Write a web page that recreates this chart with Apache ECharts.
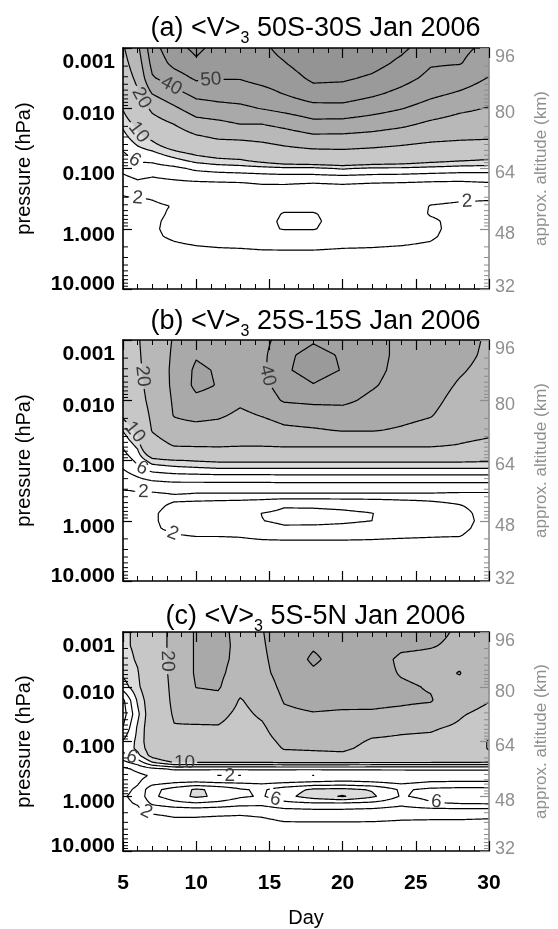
<!DOCTYPE html>
<html>
<head>
<meta charset="utf-8">
<script src="https://cdn.jsdelivr.net/npm/echarts@6.0.0/dist/echarts.min.js"></script>
<style>
html,body{margin:0;padding:0;background:#ffffff;}
#chart{width:558px;height:929px;}
</style>
</head>
<body>
<div id="chart"></div>
<script>
// ---------------- data ----------------
// grid columns (day of January 2006) and rows (log10 pressure, hPa)
const DAYS = [5, 6, 7, 8.5, 10, 11.5, 13, 14.5, 16, 18, 20, 22, 24, 26, 28, 30];
const LOG_P = [-3, -2.75, -2.5, -2.25, -2, -1.75, -1.5, -1.25, -1, -0.875, -0.75, -0.625, -0.5, -0.375, -0.25, -0.125, 0, 0.125, 0.25, 0.375, 0.5, 0.75, 1];

// <V>_3 values, one array per day column, top (0.001 hPa) to bottom (10 hPa)
const V_50S_30S = [
  [19, 17, 15, 12.5, 10.2, 8.5, 7.2, 5.8, 4.5, 3.8, 3.0, 2.3, 1.8, 1.5, 1.3, 1.1, 1.0, 0.95, 0.9, 0.8, 0.7, 0.5, 0.3],
  [28, 25, 22, 19, 14, 11, 9, 7, 5.2, 4.4, 3.6, 2.8, 1.95, 1.6, 1.4, 1.3, 1.2, 1.15, 1.1, 0.95, 0.8, 0.5, 0.3],
  [46, 43, 39, 30.5, 22, 16, 10.5, 7.5, 5.1, 4.1, 3.3, 2.6, 2.05, 1.8, 1.7, 1.8, 1.85, 1.8, 1.6, 1.3, 1.0, 0.6, 0.3],
  [57, 53, 45, 37, 28.5, 20.5, 14, 9, 5.5, 4.5, 3.5, 2.9, 2.4, 2.05, 2.2, 2.3, 2.3, 2.2, 1.9, 1.5, 1.2, 0.7, 0.4],
  [62, 58.5, 51.5, 43, 35, 26.5, 18, 10.5, 6.4, 5.0, 3.6, 2.7, 2.1, 2.2, 2.4, 2.6, 2.6, 2.4, 2.1, 1.7, 1.3, 0.8, 0.4],
  [57, 54, 50.5, 44, 37, 28, 20.5, 11.5, 6.8, 5.2, 3.7, 2.9, 2.4, 2.5, 2.6, 2.8, 2.8, 2.6, 2.2, 1.8, 1.4, 0.8, 0.4],
  [56, 54.5, 50.5, 45, 38, 30.5, 21, 12, 7, 5.3, 3.8, 3.0, 2.6, 2.8, 3.0, 3.2, 3.3, 2.9, 2.3, 1.8, 1.4, 0.8, 0.4],
  [58, 56, 53, 47, 40.5, 30.5, 22, 14, 7.2, 5.5, 4.1, 3.2, 2.8, 3.0, 3.4, 3.6, 3.6, 3.1, 2.4, 1.9, 1.5, 0.8, 0.4],
  [63, 59.5, 55, 50.5, 43, 33, 24, 16, 7.5, 5.6, 4.1, 3.3, 3.0, 3.5, 4.1, 4.2, 4.1, 3.3, 2.5, 1.9, 1.5, 0.8, 0.4],
  [68, 66, 62, 56, 46.5, 37.5, 27, 17, 7.5, 5.6, 3.9, 3.2, 3.0, 3.5, 4.1, 4.2, 4.1, 3.3, 2.5, 1.9, 1.5, 0.8, 0.4],
  [68, 66, 61.5, 55.5, 47, 37, 27, 17.5, 8.2, 5.8, 4.1, 3.2, 2.9, 3.2, 3.4, 3.5, 3.3, 2.9, 2.3, 1.8, 1.4, 0.8, 0.4],
  [66, 63.5, 58.5, 52, 44, 35, 26, 16.5, 7.6, 5.6, 3.9, 3.1, 2.8, 3.0, 3.1, 3.1, 3.0, 2.7, 2.2, 1.8, 1.4, 0.8, 0.4],
  [62, 58, 53.5, 47.5, 40.5, 32.5, 24, 15.5, 7.6, 5.5, 3.8, 3.0, 2.7, 2.8, 2.9, 2.9, 2.8, 2.5, 2.1, 1.7, 1.4, 0.8, 0.4],
  [55, 51, 47.5, 42.5, 36, 28.5, 22, 14, 7.3, 5.3, 3.6, 2.8, 2.3, 1.95, 1.9, 2.2, 2.3, 2.2, 1.9, 1.6, 1.2, 0.7, 0.4],
  [52, 50.5, 45, 39, 32, 26, 21, 13, 7, 5.2, 3.5, 2.7, 2.15, 1.8, 1.6, 1.6, 1.5, 1.4, 1.3, 1.1, 0.9, 0.6, 0.3],
  [48, 45, 39.5, 35, 29.5, 25, 20.5, 12, 7, 5.2, 3.8, 2.8, 2.1, 1.7, 1.5, 1.4, 1.3, 1.2, 1.1, 0.95, 0.8, 0.5, 0.3]
];
const V_25S_15S = [
  [16, 15.5, 15, 14, 12, 10.5, 8.1, 6.3, 4.8, 4.1, 3.2, 2.5, 1.95, 1.6, 1.3, 1.2, 1.1, 1.0, 0.9, 0.8, 0.7, 0.5, 0.3],
  [19, 18.5, 18, 17, 15.5, 13, 10.8, 8.5, 6.5, 5.6, 4.2, 3.1, 2.05, 1.7, 1.4, 1.3, 1.2, 1.1, 1.0, 0.9, 0.8, 0.5, 0.3],
  [26, 25.5, 25, 24.5, 23.5, 22, 20.5, 16, 9, 7, 5.1, 3.5, 2.1, 1.6, 1.7, 1.85, 1.85, 1.8, 1.5, 1.2, 1.0, 0.6, 0.3],
  [30.5, 31, 31.5, 31.5, 31, 30.5, 26, 20.5, 9.8, 7.5, 5.5, 3.8, 2.2, 1.8, 2.2, 2.4, 2.4, 2.3, 1.9, 1.5, 1.1, 0.6, 0.3],
  [34, 39, 42, 42.5, 37.5, 33, 26, 20.8, 10.2, 7.8, 5.6, 3.8, 2.1, 1.8, 2.3, 2.5, 2.5, 2.4, 2.05, 1.5, 1.1, 0.6, 0.3],
  [35, 36, 39, 39.5, 36, 31.5, 25.5, 21, 10.5, 8.1, 5.7, 3.8, 2.1, 1.8, 2.4, 2.7, 2.7, 2.5, 2.05, 1.5, 1.1, 0.6, 0.3],
  [36, 36.5, 37, 36, 32, 28, 24.5, 20.5, 10.5, 8.1, 5.7, 3.8, 2.1, 1.8, 2.5, 2.9, 2.9, 2.7, 2.1, 1.6, 1.2, 0.6, 0.3],
  [37, 37.5, 38, 37.5, 35, 30.5, 25, 20.5, 10.5, 8.1, 5.7, 3.8, 2.1, 1.8, 2.8, 4.05, 3.95, 3.2, 2.3, 1.7, 1.2, 0.6, 0.3],
  [44, 48, 48.5, 44, 41, 33.5, 28, 21, 10.5, 8.1, 5.8, 3.9, 2.1, 1.8, 3.8, 4.5, 4.4, 3.7, 2.4, 1.7, 1.2, 0.6, 0.3],
  [49, 53, 54, 49.5, 42, 35, 29, 21, 10.5, 8.1, 5.8, 3.9, 2.1, 1.8, 3.7, 4.6, 4.5, 3.6, 2.4, 1.7, 1.2, 0.6, 0.3],
  [45, 49, 49.5, 45, 42, 36, 30.5, 21, 10.5, 8.1, 5.8, 3.9, 2.1, 1.8, 3.5, 4.4, 4.3, 3.5, 2.4, 1.7, 1.2, 0.6, 0.3],
  [43, 43, 42.5, 41, 38, 35, 30.5, 21, 10.5, 8.1, 5.8, 3.9, 2.1, 1.8, 3.1, 4.05, 4.0, 3.3, 2.3, 1.7, 1.2, 0.6, 0.3],
  [38, 38, 37.5, 36.5, 35, 32.5, 29, 21, 10.5, 8.1, 5.8, 3.9, 2.1, 1.8, 2.6, 3.1, 3.1, 2.8, 2.2, 1.6, 1.2, 0.6, 0.3],
  [36, 36, 35, 34, 32.5, 30.5, 27, 21, 10.5, 8.1, 5.8, 3.9, 2.1, 1.8, 2.3, 2.7, 2.8, 2.6, 2.1, 1.6, 1.1, 0.6, 0.3],
  [34, 33, 31, 29, 27, 25.5, 24, 19.5, 10.5, 8.1, 5.8, 3.9, 2.1, 1.7, 2.05, 2.3, 2.4, 2.3, 2.05, 1.5, 1.1, 0.6, 0.3],
  [28.5, 28, 27, 26, 25, 24, 22.5, 17.5, 10.3, 8.1, 5.8, 3.9, 2.1, 1.7, 1.6, 1.6, 1.6, 1.5, 1.3, 1.1, 0.9, 0.5, 0.3]
];
const V_5S_5N = [
  [9.5, 9.5, 9, 8.5, 7, 3.5, 3, 4.1, 6.2, 6.5, 5.5, 3.5, 1.5, 0.9, 1.1, 1.5, 1.8, 1.6, 1.2, 0.9, 0.7, 0.4, 0.2],
  [10.5, 10.5, 10.3, 9.8, 9.5, 8.3, 7.5, 8.3, 8.5, 8.5, 7.5, 5, 2.5, 1.5, 1.8, 2.3, 2.5, 2.2, 1.6, 1.1, 0.8, 0.4, 0.2],
  [14, 14, 13.5, 13, 12.5, 12, 12, 12, 12, 11.5, 11, 8.1, 3.5, 2.2, 3.2, 5.4, 5.6, 4.4, 2.6, 1.6, 1.1, 0.5, 0.2],
  [23, 23, 23, 23, 22.5, 22, 21, 19.5, 17, 15.5, 13.5, 10.3, 4.3, 2.3, 3.9, 6.8, 7.0, 5.5, 3.0, 2.05, 1.4, 0.6, 0.2],
  [31, 31, 31, 31, 30.2, 27, 23, 19, 16.5, 15, 13.5, 10.3, 4.3, 2.2, 4.2, 8.3, 8.4, 5.9, 3.2, 2.05, 1.4, 0.6, 0.2],
  [32, 32.5, 32.5, 32, 31, 27.5, 23, 19.2, 16.5, 15, 13.5, 10.3, 4.3, 1.9, 3.9, 7.5, 7.6, 5.5, 3.0, 1.9, 1.3, 0.6, 0.2],
  [28, 28, 27.5, 26, 23, 19.3, 17.5, 16, 15, 14, 13, 10.3, 4.3, 1.9, 3.8, 6.2, 6.3, 4.8, 2.8, 1.8, 1.3, 0.6, 0.2],
  [29.5, 29, 28.5, 28, 26, 24, 21.5, 18.5, 16.5, 15.5, 14, 10.3, 4.3, 2.2, 3.6, 5.7, 5.8, 4.6, 3.0, 2.05, 1.4, 0.6, 0.2],
  [36, 35, 34, 33, 32, 30.5, 28.5, 26, 22, 20.5, 17.5, 10.5, 4.3, 2.1, 3.9, 7.0, 7.3, 5.5, 3.6, 2.5, 1.8, 0.8, 0.3],
  [37, 39, 41.5, 38.5, 35, 32.5, 29.5, 27, 23, 21, 18, 10.5, 4.3, 1.9, 4.3, 8.3, 9.0, 5.9, 3.8, 2.6, 1.8, 0.8, 0.3],
  [37, 36.5, 36, 35, 34, 32, 29, 26, 23, 21.5, 18.5, 10.5, 4.3, 2.3, 4.5, 8.5, 10.2, 5.9, 3.8, 2.6, 1.8, 0.8, 0.3],
  [36, 35, 34, 33, 32.5, 31.5, 29.2, 23, 19, 17.5, 15, 10.4, 4.3, 2.4, 4.2, 7.8, 8.4, 5.6, 3.6, 2.5, 1.8, 0.8, 0.3],
  [33, 31.5, 28.5, 29.5, 31, 31, 28.5, 21.5, 18.5, 17, 15, 10.4, 4.3, 2.5, 3.6, 5.7, 5.8, 4.6, 3.2, 2.3, 1.7, 0.8, 0.3],
  [32, 30.5, 28, 28, 29.5, 30.5, 27, 21, 18, 16.5, 14.5, 10.4, 4.3, 2.6, 4.2, 6.4, 6.6, 5.8, 3.4, 2.3, 1.6, 0.7, 0.3],
  [29, 28.5, 28, 30.3, 28, 25, 21, 18.5, 16, 15, 13.5, 10.3, 4.3, 2.6, 4.3, 6.6, 6.8, 6.2, 3.5, 2.3, 1.6, 0.7, 0.3],
  [27, 26.5, 25.5, 24, 22, 20.5, 17, 13, 9.5, 9.6, 11, 10.2, 4.3, 2.6, 4.3, 6.6, 6.8, 6.3, 3.5, 2.2, 1.5, 0.7, 0.3]
];

const CONTOUR_LEVELS = [2, 4, 6, 8, 10, 20, 30, 40, 50, 60];
const FILL_LEVELS = [8, 10, 20, 30, 40, 50, 60];
const FILL_COLORS = ['#dcdcdc', '#c7c7c7', '#b8b8b8', '#a9a9a9', '#a1a1a1', '#9a9a9a', '#949494'];

// contour labels: [level, day, log10 p] (approximate spot on the line)
const LABELS_A = [[50, 11, -2.48], [40, 8.3, -2.33], [20, 6.4, -2.17], [10, 6.0, -1.6], [6, 5.8, -1.12], [2, 6.0, -0.58], [2, 28.5, -0.44]];
const LABELS_B = [[20, 6.3, -2.4], [10, 5.7, -1.47], [6, 6.3, -0.86], [2, 6.4, -0.48], [2, 8.4, 0.19], [40, 15.1, -2.41]];
const LABELS_C = [[20, 7.8, -2.47], [6, 5.6, -0.8], [10, 9.2, -0.6], [2, 12.3, -0.38], [2, 6.6, 0.12], [6, 15.4, 0.0], [6, 26.4, 0.19]];

const PANEL_TAGS = ['(a)', '(b)', '(c)'];
const PANEL_BANDS = ['50S-30S', '25S-15S', '5S-5N'];
const PANEL_MONTH = 'Jan 2006';
const LOG_MINOR_TICKS = [0.002, 0.003, 0.004, 0.005, 0.006, 0.007, 0.008, 0.009,
  0.02, 0.03, 0.04, 0.05, 0.06, 0.07, 0.08, 0.09,
  0.2, 0.3, 0.4, 0.5, 0.6, 0.7, 0.8, 0.9,
  2, 3, 4, 5, 6, 7, 8, 9];

// ---------------- layout ----------------
const FONT = '"Liberation Sans", Arial, Helvetica, sans-serif';
const GRID_LEFT = 123, GRID_W = 385;
const GRID_TOP = [48, 340, 632];
const GRID_H = [241, 241, 227];
const TITLE_Y = [29, 322, 617];

const PANELS = [
  { data: V_50S_30S, labels: LABELS_A },
  { data: V_25S_15S, labels: LABELS_B },
  { data: V_5S_5N, labels: LABELS_C }
];

function fieldAt(cols, d, L) {
  d = Math.max(DAYS[0], Math.min(DAYS[DAYS.length - 1], d));
  L = Math.max(LOG_P[0], Math.min(LOG_P[LOG_P.length - 1], L));
  let i = 0; while (i < DAYS.length - 2 && d > DAYS[i + 1]) i++;
  let j = 0; while (j < LOG_P.length - 2 && L > LOG_P[j + 1]) j++;
  const tx = (d - DAYS[i]) / (DAYS[i + 1] - DAYS[i]);
  const ty = (L - LOG_P[j]) / (LOG_P[j + 1] - LOG_P[j]);
  const a = cols[i][j], b = cols[i + 1][j], c = cols[i][j + 1], e = cols[i + 1][j + 1];
  return (a * (1 - tx) + b * tx) * (1 - ty) + (c * (1 - tx) + e * tx) * ty;
}

function findLabelPos(cols, lev, d0, L0, pxDay, pxL) {
  let best = null;
  const sL = 0.002;
  for (let L = -2.998; L < 0.996; L += sL) {
    const a = fieldAt(cols, d0, L) - lev, b = fieldAt(cols, d0, L + sL) - lev;
    if (a * b < 0) {
      const Lc = L + sL * a / (a - b);
      const dist = Math.abs(Lc - L0) * pxL;
      if (!best || dist < best.dist) best = { d: d0, L: Lc, dist: dist };
    }
  }
  const sD = 0.01;
  for (let d = 5.3; d < 29.7; d += sD) {
    const a = fieldAt(cols, d, L0) - lev, b = fieldAt(cols, d + sD, L0) - lev;
    if (a * b < 0) {
      const dc = d + sD * a / (a - b);
      const dist = Math.abs(dc - d0) * pxDay;
      if (!best || dist < best.dist) best = { d: dc, L: L0, dist: dist };
    }
  }
  return best || { d: d0, L: L0 };
}

function f2(v) { return v.toFixed(2); }

function contourRenderer(cols, labels) {
  return function (params, api) {
    if (params.dataIndex !== 0) return null;
    const NX = 251, NY = 201;
    const ds = [], Ls = [], xs = [], ys = [];
    for (let i = 0; i < NX; i++) { const d = 5 + 25 * i / (NX - 1); ds.push(d); xs.push(api.coord([d, 1])[0]); }
    for (let j = 0; j < NY; j++) { const L = -3 + 4 * j / (NY - 1); Ls.push(L); ys.push(api.coord([5, Math.pow(10, L)])[1]); }
    const F = [];
    for (let j = 0; j < NY; j++) {
      const row = new Float64Array(NX);
      for (let i = 0; i < NX; i++) row[i] = fieldAt(cols, ds[i], Ls[j]);
      F.push(row);
    }
    const pxDay = (xs[NX - 1] - xs[0]) / 25;
    const pxL = (ys[NY - 1] - ys[0]) / 4;
    const children = [];

    // filled bands (cumulative layers)
    for (let b = 0; b < FILL_LEVELS.length; b++) {
      const lev = FILL_LEVELS[b];
      let p = '';
      for (let j = 0; j < NY - 1; j++) {
        let start = -1;
        for (let i = 0; i < NX; i++) {
          let inside = false;
          if (i < NX - 1) {
            const c = (F[j][i] + F[j][i + 1] + F[j + 1][i] + F[j + 1][i + 1]) / 4;
            inside = c >= lev;
          }
          if (inside && start < 0) start = i;
          if (!inside && start >= 0) {
            p += 'M' + f2(xs[start]) + ' ' + f2(ys[j]) + 'H' + f2(xs[i]) + 'V' + f2(ys[j + 1]) + 'H' + f2(xs[start]) + 'Z';
            start = -1;
          }
        }
      }
      if (p) children.push({ type: 'path', shape: { pathData: p }, style: { fill: FILL_COLORS[b], stroke: null } });
    }

    // labels (computed first so lines can be broken under them)
    const fs = 19;
    const labelBoxes = [];
    const labelEls = [];
    labels.forEach(function (lb) {
      const lev = lb[0];
      const pos = findLabelPos(cols, lev, lb[1], lb[2], pxDay, pxL);
      const x = api.coord([pos.d, 1])[0];
      const y = api.coord([5, Math.pow(10, pos.L)])[1];
      const h = 0.05, k = 0.005;
      const gx = (fieldAt(cols, pos.d + h, pos.L) - fieldAt(cols, pos.d - h, pos.L)) / (2 * h * pxDay);
      const gy = (fieldAt(cols, pos.d, pos.L + k) - fieldAt(cols, pos.d, pos.L - k)) / (2 * k * pxL);
      let rot = -Math.atan2(gx, -gy);
      while (rot > Math.PI / 2 + 1e-6) rot -= Math.PI;
      while (rot <= -Math.PI / 2 + 1e-6) rot += Math.PI;
      const txt = String(lev);
      const hw = txt.length * 0.56 * fs / 2 + 3;
      labelBoxes.push({ lev: lev, cx: x, cy: y, c: Math.cos(rot), s: Math.sin(rot), hw: hw, hh: fs * 0.55 });
      labelEls.push({
        type: 'text', x: x, y: y, rotation: rot,
        style: { text: txt, fill: '#3c3c3c', fontSize: fs, fontFamily: FONT, align: 'center', verticalAlign: 'middle' }
      });
    });

    function hidden(lev, mx, my) {
      for (let q = 0; q < labelBoxes.length; q++) {
        const bx = labelBoxes[q];
        if (bx.lev !== lev) continue;
        const dx = mx - bx.cx, dy = my - bx.cy;
        const u = dx * bx.c - dy * bx.s;
        const v = dx * bx.s + dy * bx.c;
        if (Math.abs(u) < bx.hw && Math.abs(v) < bx.hh) return true;
      }
      return false;
    }

    // contour lines (marching squares)
    CONTOUR_LEVELS.forEach(function (lev) {
      let p = '';
      for (let j = 0; j < NY - 1; j++) {
        for (let i = 0; i < NX - 1; i++) {
          const v0 = F[j][i], v1 = F[j][i + 1], v2 = F[j + 1][i + 1], v3 = F[j + 1][i];
          const code = (v0 >= lev ? 8 : 0) | (v1 >= lev ? 4 : 0) | (v2 >= lev ? 2 : 0) | (v3 >= lev ? 1 : 0);
          if (code === 0 || code === 15) continue;
          const x0 = xs[i], x1 = xs[i + 1], y0 = ys[j], y1 = ys[j + 1];
          const T = function () { return [x0 + (x1 - x0) * (lev - v0) / (v1 - v0), y0]; };
          const R = function () { return [x1, y0 + (y1 - y0) * (lev - v1) / (v2 - v1)]; };
          const B = function () { return [x0 + (x1 - x0) * (lev - v3) / (v2 - v3), y1]; };
          const Lf = function () { return [x0, y0 + (y1 - y0) * (lev - v0) / (v3 - v0)]; };
          const segs = [];
          switch (code) {
            case 1: case 14: segs.push([Lf(), B()]); break;
            case 2: case 13: segs.push([B(), R()]); break;
            case 3: case 12: segs.push([Lf(), R()]); break;
            case 4: case 11: segs.push([T(), R()]); break;
            case 6: case 9: segs.push([T(), B()]); break;
            case 7: case 8: segs.push([Lf(), T()]); break;
            case 5: {
              const cv = (v0 + v1 + v2 + v3) / 4;
              if (cv >= lev) { segs.push([Lf(), T()]); segs.push([B(), R()]); }
              else { segs.push([T(), R()]); segs.push([Lf(), B()]); }
              break;
            }
            case 10: {
              const cv = (v0 + v1 + v2 + v3) / 4;
              if (cv >= lev) { segs.push([T(), R()]); segs.push([Lf(), B()]); }
              else { segs.push([Lf(), T()]); segs.push([B(), R()]); }
              break;
            }
          }
          for (let s = 0; s < segs.length; s++) {
            const a = segs[s][0], b = segs[s][1];
            if (hidden(lev, (a[0] + b[0]) / 2, (a[1] + b[1]) / 2)) continue;
            p += 'M' + f2(a[0]) + ' ' + f2(a[1]) + 'L' + f2(b[0]) + ' ' + f2(b[1]);
          }
        }
      }
      if (p) children.push({
        type: 'path', shape: { pathData: p },
        style: { fill: 'none', stroke: '#000', lineWidth: 1.2, lineCap: 'round', lineJoin: 'round' }
      });
    });

    labelEls.forEach(function (el) { children.push(el); });
    return { type: 'group', children: children };
  };
}

function minorTickRenderer(params, api) {
  const v = api.value(1);
  const pl = api.coord([5, v]);
  const pr = api.coord([30, v]);
  return {
    type: 'group',
    children: [
      { type: 'line', shape: { x1: pl[0], y1: pl[1], x2: pl[0] + 5, y2: pl[1] }, style: { stroke: '#000', lineWidth: 1 } },
      { type: 'line', shape: { x1: pr[0] - 5, y1: pr[1], x2: pr[0], y2: pr[1] }, style: { stroke: '#8c8c8c', lineWidth: 1 } }
    ]
  };
}

function fmtP(v) {
  const s = v.toFixed(3);
  if (v < 0.0015) return '{t|' + s + '}';
  if (v > 5) return '{b|' + s + '}';
  return '{m|' + s + '}';
}
function fmtAlt(v) {
  if (v > 90) return '{t|' + v + '}';
  if (v < 35) return '{b|' + v + '}';
  return '{m|' + v + '}';
}
const PLAB = { fontSize: 21, fontWeight: 'bold', fontFamily: FONT, color: '#000' };
const ALAB = { fontSize: 18, fontFamily: FONT, color: '#8f8f8f' };

const grids = [], xAxes = [], yAxes = [], series = [], graphic = [];
for (let k = 0; k < 3; k++) {
  grids.push({ left: GRID_LEFT, width: GRID_W, top: GRID_TOP[k], height: GRID_H[k] });
  ['bottom', 'top'].forEach(function (pos) {
    const showLab = pos === 'bottom' && k === 2;
    xAxes.push({
      type: 'value', gridIndex: k, position: pos, min: 5, max: 30, interval: 5, z: 4,
      axisLine: { show: true, onZero: false, lineStyle: { color: '#000', width: 1.6 } },
      axisTick: { show: true, inside: true, length: 10, lineStyle: { color: '#000', width: 1.2 } },
      minorTick: { show: true, splitNumber: 5, length: 5, lineStyle: { color: '#000', width: 1 } },
      splitLine: { show: false }, minorSplitLine: { show: false },
      axisLabel: { show: showLab, margin: 22, fontSize: 21, fontWeight: 'bold', color: '#000', fontFamily: FONT },
      name: showLab ? 'Day' : '', nameLocation: 'middle', nameGap: 57,
      nameTextStyle: { fontSize: 20, color: '#000', fontFamily: FONT }
    });
  });
  yAxes.push({
    type: 'log', logBase: 10, gridIndex: k, position: 'left', min: 0.001, max: 10, inverse: true, z: 4,
    axisLine: { show: true, onZero: false, lineStyle: { color: '#000', width: 1.6 } },
    axisTick: { show: true, inside: true, length: 9, lineStyle: { color: '#000', width: 1.2 } },
    splitLine: { show: false },
    axisLabel: {
      margin: 8, formatter: fmtP, showMinLabel: true, showMaxLabel: true,
      rich: {
        t: Object.assign({ padding: [28, 0, 0, 0] }, PLAB),
        m: Object.assign({ padding: [12, 0, 0, 0] }, PLAB),
        b: Object.assign({ padding: [0, 0, 10, 0] }, PLAB)
      }
    },
    name: 'pressure (hPa)', nameLocation: 'middle', nameRotate: 90, nameGap: 89,
    nameTextStyle: { fontSize: 20, color: '#000', fontFamily: FONT }
  });
  yAxes.push({
    type: 'value', gridIndex: k, position: 'right', min: 32, max: 96, interval: 16, z: 4,
    axisLine: { show: true, onZero: false, lineStyle: { color: '#8c8c8c', width: 1.6 } },
    axisTick: { show: true, inside: true, length: 9, lineStyle: { color: '#8c8c8c', width: 1.2 } },
    splitLine: { show: false },
    axisLabel: {
      margin: 6, formatter: fmtAlt, showMinLabel: true, showMaxLabel: true,
      rich: {
        t: Object.assign({ padding: [18, 0, 0, 0] }, ALAB),
        m: Object.assign({ padding: [10, 0, 0, 0] }, ALAB),
        b: Object.assign({ padding: [0, 0, 4, 0] }, ALAB)
      }
    },
    name: 'approx. altitude (km)', nameLocation: 'middle', nameRotate: 90, nameGap: 44,
    nameTextStyle: { fontSize: 17, color: '#8f8f8f', fontFamily: FONT }
  });
  series.push({
    type: 'custom', coordinateSystem: 'cartesian2d', xAxisIndex: 2 * k, yAxisIndex: 2 * k,
    data: [[17.5, 0.1]], silent: true, z: 2, clip: true,
    renderItem: contourRenderer(PANELS[k].data, PANELS[k].labels)
  });
  series.push({
    type: 'custom', coordinateSystem: 'cartesian2d', xAxisIndex: 2 * k, yAxisIndex: 2 * k,
    data: LOG_MINOR_TICKS.map(function (v) { return [5, v]; }), silent: true, z: 5,
    renderItem: minorTickRenderer
  });
  graphic.push({
    type: 'text', x: GRID_LEFT + GRID_W / 2, y: TITLE_Y[k], z: 10,
    style: {
      text: PANEL_TAGS[k] + ' <V>{s|3} ' + PANEL_BANDS[k] + ' ' + PANEL_MONTH,
      fontSize: 27, fontFamily: FONT, fill: '#000', align: 'center', verticalAlign: 'middle',
      rich: { s: { fontSize: 16, fontFamily: FONT, fill: '#000', padding: [19, 0, 0, 0] } }
    }
  });
}

const chart = echarts.init(document.getElementById('chart'), null, { renderer: 'canvas' });
chart.setOption({
  animation: false,
  backgroundColor: '#ffffff',
  grid: grids, xAxis: xAxes, yAxis: yAxes, series: series, graphic: graphic
});
</script>
</body>
</html>
